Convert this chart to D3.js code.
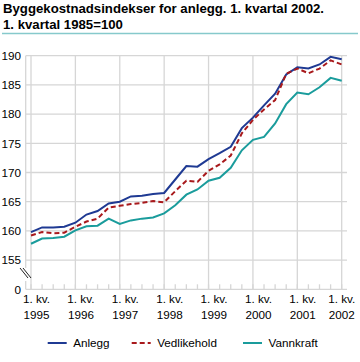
<!DOCTYPE html>
<html><head><meta charset="utf-8">
<script src="https://cdn.jsdelivr.net/npm/d3@7"></script>
<style>body{margin:0;background:#fff}svg{display:block}text{font-family:"Liberation Sans",Arial,sans-serif}</style>
</head><body><svg id="c" width="360" height="362"></svg>
<script>
const titleLines = ["Byggekostnadsindekser for anlegg. 1. kvartal 2002.", "1. kvartal 1985=100"];
const years = ["1995","1996","1997","1998","1999","2000","2001","2002"];
const quarterLabel = "1. kv.";
const yTicks = [155,160,165,170,175,180,185,190];
const seriesNames = ["Anlegg","Vedlikehold","Vannkraft"];
const anlegg = [159.8,160.6,160.6,160.7,161.4,162.8,163.4,164.7,165.0,165.9,166.0,166.3,166.5,168.8,171.1,171.0,172.3,173.3,174.4,177.6,179.4,181.5,183.5,186.8,188.0,187.8,188.5,189.8,189.4];
const vedlikehold = [159.2,159.8,159.6,159.7,160.7,161.6,162.1,164.0,164.3,164.6,164.8,165.1,164.9,166.8,168.6,168.4,170.3,171.4,172.9,176.7,179.0,180.8,182.4,186.9,187.8,187.0,187.8,189.2,188.5];
const vannkraft = [157.8,158.7,158.8,159.0,160.1,160.8,160.9,162.1,161.2,161.8,162.1,162.3,163.0,164.4,166.2,167.1,168.6,169.1,170.8,173.8,175.6,176.1,178.4,181.7,183.7,183.4,184.6,186.2,185.7];

(function(){
const svg = d3.select("#c");
const colors = ["#1f3a93","#a8191c","#1a9c9c"];
const dashes = [null,"5,3",null];
const seriesData = [anlegg, vedlikehold, vannkraft];

const pL = 25.7, pR = 347, pT = 55.7, pB = 289.3;
const x = d3.scaleLinear().domain([0, 28]).range([31, 341.7]);
const y = d3.scaleLinear().domain([150, 190]).range([pB, pT]);

const tt = svg.append("text").attr("font-weight","bold").attr("font-size",13.2).attr("fill","#000");
titleLines.forEach((t,i)=> tt.append("tspan").attr("x",3).attr("y",13 + i*15.5).text(t));
svg.append("line").attr("x1",2).attr("x2",358).attr("y1",33.5).attr("y2",33.5).attr("stroke","#86c9cc").attr("stroke-width",1.5);

const grid = "#d6d6d6";
svg.append("g").selectAll("line").data(yTicks).join("line")
  .attr("x1",pL).attr("x2",pR).attr("y1",d=>y(d)).attr("y2",d=>y(d))
  .attr("stroke",grid).attr("stroke-width",1.3);
svg.append("line").attr("x1",pL).attr("x2",pR).attr("y1",pB).attr("y2",pB).attr("stroke",grid).attr("stroke-width",1.3);
svg.append("g").selectAll("line").data(years).join("line")
  .attr("x1",(d,i)=>x(i*4)).attr("x2",(d,i)=>x(i*4)).attr("y1",pT).attr("y2",pB)
  .attr("stroke",grid).attr("stroke-width",1.3);
svg.append("line").attr("x1",pL).attr("x2",pL).attr("y1",pT).attr("y2",268).attr("stroke",grid).attr("stroke-width",1.3);
svg.append("line").attr("x1",pL).attr("x2",pL).attr("y1",281).attr("y2",pB).attr("stroke",grid).attr("stroke-width",1.3);
svg.append("g").selectAll("line").data(d3.range(0,29)).join("line")
  .attr("x1",d=>x(d)).attr("x2",d=>x(d)).attr("y1",pB-5).attr("y2",pB)
  .attr("stroke",grid).attr("stroke-width",1.3);
[0,3].forEach(o=>svg.append("line").attr("x1",20+o).attr("y1",268).attr("x2",28+o).attr("y2",278)
  .attr("stroke","#222").attr("stroke-width",1));

svg.append("g").selectAll("text").data(yTicks).join("text")
  .attr("x",21).attr("y",d=>y(d)+4.2).attr("text-anchor","end").attr("font-size",11.7).attr("fill","#000").text(d=>d);
svg.append("text").attr("x",21).attr("y",pB+4.2).attr("text-anchor","end").attr("font-size",11.7).text("0");

const xl = svg.append("g");
years.forEach((yr,i)=>{
  const last = i===years.length-1;
  const px = last ? x(i*4) : x(i*4)+5.5;
  const t = xl.append("text").attr("text-anchor","middle").attr("font-size",11.7).attr("fill","#000");
  t.append("tspan").attr("x",px).attr("y",303).text(quarterLabel);
  t.append("tspan").attr("x",px).attr("y",318.5).text(yr);
});

const line = d3.line().x((d,i)=>x(i)).y(d=>y(d));
seriesData.forEach((s,k)=>{
  svg.append("path").datum(s).attr("d",line).attr("fill","none")
    .attr("stroke",colors[k]).attr("stroke-width",2).attr("stroke-dasharray",dashes[k]);
});

const legX = [47.7,131.7,243];
seriesNames.forEach((n,k)=>{
  svg.append("line").attr("x1",legX[k]).attr("x2",legX[k]+19).attr("y1",343).attr("y2",343)
    .attr("stroke",colors[k]).attr("stroke-width",2).attr("stroke-dasharray",dashes[k]);
  svg.append("text").attr("x",legX[k]+25.5).attr("y",347).attr("font-size",11.7).attr("fill","#000").text(n);
});
})();
</script></body></html>
